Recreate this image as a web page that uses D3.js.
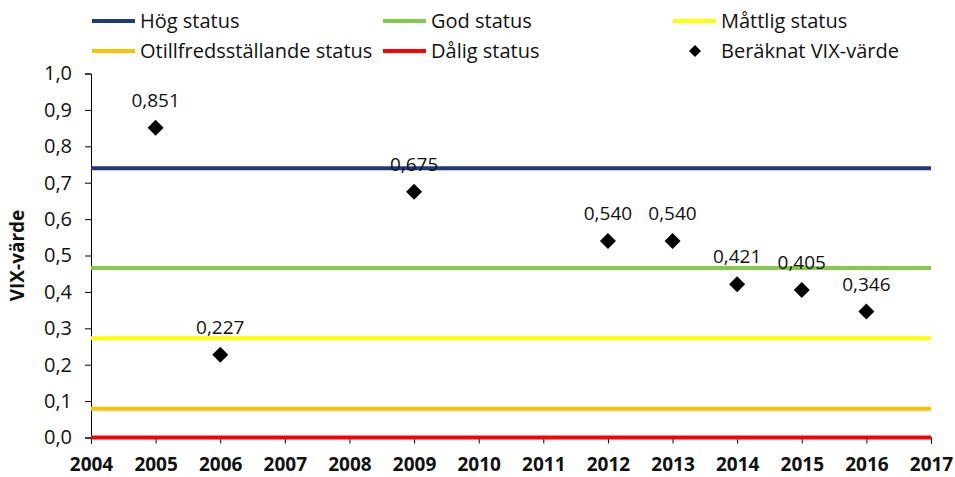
<!DOCTYPE html>
<html>
<head>
<meta charset="utf-8">
<script src="https://cdn.jsdelivr.net/npm/d3@7"></script>
<style>
  body { margin: 0; background: #fff; }
  text { font-family: 'Open Sans', 'Liberation Sans', sans-serif; fill: #111; }
</style>
</head>
<body>
<svg id="chart" width="955" height="477"></svg>
<script>
const years = [2005, 2006, 2009, 2012, 2013, 2014, 2015, 2016];
const vix = [0.851, 0.227, 0.675, 0.540, 0.540, 0.421, 0.405, 0.346];

const statusNames = ['Hög status', 'God status', 'Måttlig status', 'Otillfredsställande status', 'Dålig status'];
const statusLevels = [0.740, 0.466, 0.273, 0.079, 0.0];
const statusColors = ['#1f3a7a', '#86c94a', '#ffff00', '#ffc000', '#ff0000'];

const xTicks = d3.range(2004, 2018);
const yTicks = d3.range(0, 11).map(d => d / 10);

const svg = d3.select('#chart');
const mLeft = 91, mRight = 931, mTop = 73.5, mBottom = 437.5;

const x = d3.scaleLinear().domain([2004, 2017]).range([mLeft, mRight]);
const y = d3.scaleLinear().domain([0, 1]).range([mBottom, mTop]);
const fmt = v => d3.format('.1f')(v).replace('.', ',');
const fmt3 = v => d3.format('.3f')(v).replace('.', ',');

// axes
const yAxis = svg.append('g')
    .attr('transform', `translate(${mLeft},0)`)
    .call(d3.axisLeft(y).tickValues(yTicks).tickFormat(fmt).tickSize(6).tickPadding(13));
yAxis.select('.domain').attr('stroke', '#000');
yAxis.selectAll('.tick line').attr('stroke', '#000');
yAxis.selectAll('.tick text').style('font-size', '20px').attr('fill', '#111');

const xAxis = svg.append('g')
    .attr('transform', `translate(0,${mBottom})`)
    .call(d3.axisBottom(x).tickValues(xTicks).tickFormat(d3.format('d')).tickSize(6).tickPadding(14));
xAxis.select('.domain').attr('stroke', '#000');
xAxis.selectAll('.tick line').attr('stroke', '#000');
xAxis.selectAll('.tick text').style('font-size', '19px').style('font-weight', 'bold').attr('fill', '#111');

svg.append('text')
    .attr('transform', `translate(24,${(mTop + mBottom) / 2}) rotate(-90)`)
    .attr('text-anchor', 'middle')
    .style('font-size', '19px')
    .style('font-weight', 'bold')
    .text('VIX-värde');

// status lines
svg.append('g')
    .selectAll('line')
    .data(statusLevels)
    .join('line')
    .attr('x1', mLeft)
    .attr('x2', mRight)
    .attr('y1', d => y(d))
    .attr('y2', d => y(d))
    .attr('stroke', (d, i) => statusColors[i])
    .attr('stroke-width', 4);

// points
const pts = years.map((d, i) => ({year: d, value: vix[i]}));
svg.append('g')
    .selectAll('path')
    .data(pts)
    .join('path')
    .attr('d', d3.symbol().type(d3.symbolSquare).size(128))
    .attr('transform', d => `translate(${x(d.year)},${y(d.value)}) rotate(45)`)
    .attr('fill', '#000');

svg.append('g')
    .selectAll('text')
    .data(pts)
    .join('text')
    .attr('x', d => x(d.year))
    .attr('y', d => y(d.value) - 21)
    .attr('text-anchor', 'middle')
    .style('font-size', '19px')
    .text(d => fmt3(d.value));

// legend
const legendPos = [[92, 21], [383, 21], [673, 21], [92, 51], [383, 51]];
const legend = svg.append('g');
statusNames.forEach((name, i) => {
    const [lx, ly] = legendPos[i];
    legend.append('line')
        .attr('x1', lx).attr('x2', lx + 43)
        .attr('y1', ly).attr('y2', ly)
        .attr('stroke', statusColors[i])
        .attr('stroke-width', 4);
    legend.append('text')
        .attr('x', lx + 48).attr('y', ly)
        .attr('dy', '0.35em')
        .style('font-size', '20px')
        .text(name);
});
legend.append('path')
    .attr('d', d3.symbol().type(d3.symbolSquare).size(72))
    .attr('transform', 'translate(695,51) rotate(45)')
    .attr('fill', '#000');
legend.append('text')
    .attr('x', 721).attr('y', 51)
    .attr('dy', '0.35em')
    .style('font-size', '20px')
    .text('Beräknat VIX-värde');
</script>
</body>
</html>
